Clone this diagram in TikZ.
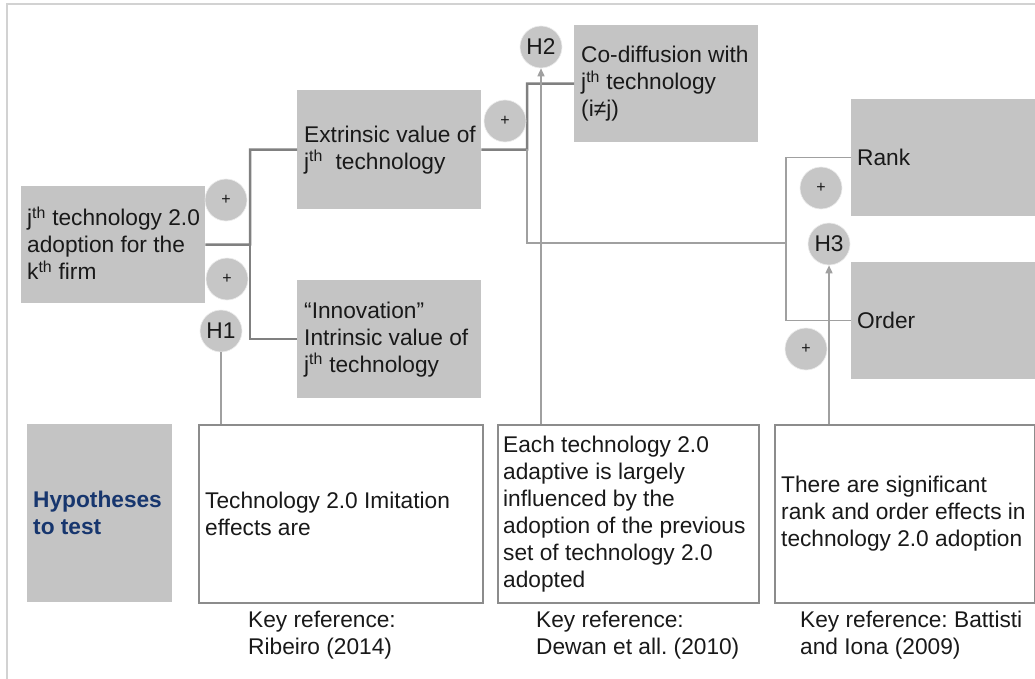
\documentclass[tikz,border=0pt]{standalone}
\usepackage{fontspec}
\setmainfont{Liberation Sans}
\usetikzlibrary{arrows.meta,calc}
\definecolor{boxgray}{RGB}{196,196,196}
\definecolor{circgray}{RGB}{198,198,198}
\definecolor{boxline}{RGB}{140,140,140}
\definecolor{lineA}{RGB}{128,128,128}
\definecolor{lineB}{RGB}{160,160,160}
\definecolor{framec}{RGB}{210,210,210}
\definecolor{txt}{RGB}{25,25,25}
\definecolor{navy}{RGB}{23,54,110}
\newcommand\dgmfont{\fontsize{22.7}{27}\selectfont\frenchspacing}
\begin{document}
\begin{tikzpicture}[x=1pt,y=-1pt,
  gbox/.style={fill=boxgray, draw=none, anchor=north west, inner sep=0pt},
  wbox/.style={fill=white, draw=boxline, line width=1.5pt, anchor=north west, inner sep=0pt},
  lbl/.style={anchor=west, align=left, inner sep=0pt, font=\dgmfont, text=txt},
  circ/.style={circle, fill=circgray, draw=white!85!gray, line width=0.6pt, minimum size=42pt, inner sep=0pt, text=txt},
  plus/.style={circ, font=\fontsize{16}{16}\selectfont},
  hyp/.style={circ, font=\dgmfont},
  thickln/.style={draw=lineA, line width=2.5pt},
  thinln/.style={draw=lineB, line width=1.5pt},
  arrln/.style={draw=lineB, line width=1.5pt, -{Triangle[length=8pt,width=7pt]}},
]
\fill[white] (0,0) rectangle (1035,679);
\useasboundingbox (0,0) rectangle (1035,679);
\draw[framec, line width=2.5pt] (7,679) -- (7,4) -- (1035,4);

% grey boxes
\node[gbox, minimum width=184pt, minimum height=117pt] (adopt) at (21,186) {};
\node[gbox, minimum width=184pt, minimum height=119pt] (extr) at (297,90) {};
\node[gbox, minimum width=184pt, minimum height=118pt] (innov) at (297,280) {};
\node[gbox, minimum width=184pt, minimum height=117pt] (codiff) at (574,25) {};
\node[gbox, minimum width=184pt, minimum height=117pt] (rank) at (851,99) {};
\node[gbox, minimum width=184pt, minimum height=117pt] (order) at (851,262) {};
\node[gbox, minimum width=145pt, minimum height=178pt] (hypo) at (27,424) {};
% white boxes
\node[wbox, minimum width=284pt, minimum height=178pt] (hyp1) at (198,424) {};
\node[wbox, minimum width=261pt, minimum height=178pt] (hyp2) at (497,424) {};
\node[wbox, minimum width=260pt, minimum height=178pt] (hyp3) at (774,424) {};

% texts
\node[lbl] (adoptT) at ($(adopt.west)+(6,-1.5)$) {j\textsuperscript{th} technology 2.0\\adoption for the\\k\textsuperscript{th} firm};
\node[lbl] (extrT) at ($(extr.west)+(7,0)$) {Extrinsic value of\\j\textsuperscript{th}\ \ technology};
\node[lbl] (innovT) at ($(innov.west)+(7,0)$) {“Innovation”\\Intrinsic value of\\j\textsuperscript{th} technology};
\node[lbl] (codiffT) at ($(codiff.west)+(7,0)$) {Co-diffusion with\\j\textsuperscript{th} technology\\(i≠j)};
\node[lbl] (rankT) at ($(rank.west)+(6,0)$) {Rank};
\node[lbl] (orderT) at ($(order.west)+(6,0)$) {Order};
\node[lbl, text=navy, font=\dgmfont\bfseries] (hypoT) at ($(hypo.west)+(6,0)$) {Hypotheses\\to test};
\node[lbl] (hyp1T) at ($(hyp1.west)+(7,0)$) {Technology 2.0 Imitation\\effects are};
\node[lbl] (hyp2T) at ($(hyp2.west)+(6,0)$) {Each technology 2.0\\adaptive is largely\\influenced by the\\adoption of the previous\\set of technology 2.0\\adopted};
\node[lbl] (hyp3T) at ($(hyp3.west)+(7,0)$) {There are significant\\rank and order effects in\\technology 2.0 adoption};
\node[lbl] (ref1) at (248,635) {Key reference:\\Ribeiro (2014)};
\node[lbl] (ref2) at (536,635) {Key reference:\\Dewan et all. (2010)};
\node[lbl] (ref3) at (800,635) {Key reference: Battisti\\and Iona (2009)};

% junctions
\coordinate (j1) at (250,244.5);
\coordinate (j2) at (527,149.5);
\coordinate (j3) at (786,243);

% connectors
\draw[thickln] (adopt.east) -- (j1) |- (extr.west);
\draw[thickln] (j1) |- (innov.west);
\draw[thickln] (extr.east) -- (j2) |- (codiff.west);
\draw[thinln] (j2) |- (j3);
\draw[thinln] (rank.west) -| (j3) |- (order.west);

% circles
\node[plus] (p1) at (226,200) {+};
\node[plus] (p2) at (227,279) {+};
\node[hyp] (h1) at (221,331) {H1};
\node[plus] (p3) at (505,121) {+};
\node[hyp] (h2) at (541,47) {H2};
\node[plus] (p4) at (821,188) {+};
\node[hyp] (h3) at (829,244) {H3};
\node[plus] (p5) at (806,349) {+};

% hypothesis links
\draw[thinln] (hyp1.north -| h1) -- (h1.south);
\draw[arrln] (hyp2.north -| h2) -- (h2.south);
\draw[arrln] (hyp3.north -| h3) -- (h3.south);
\end{tikzpicture}
\end{document}
